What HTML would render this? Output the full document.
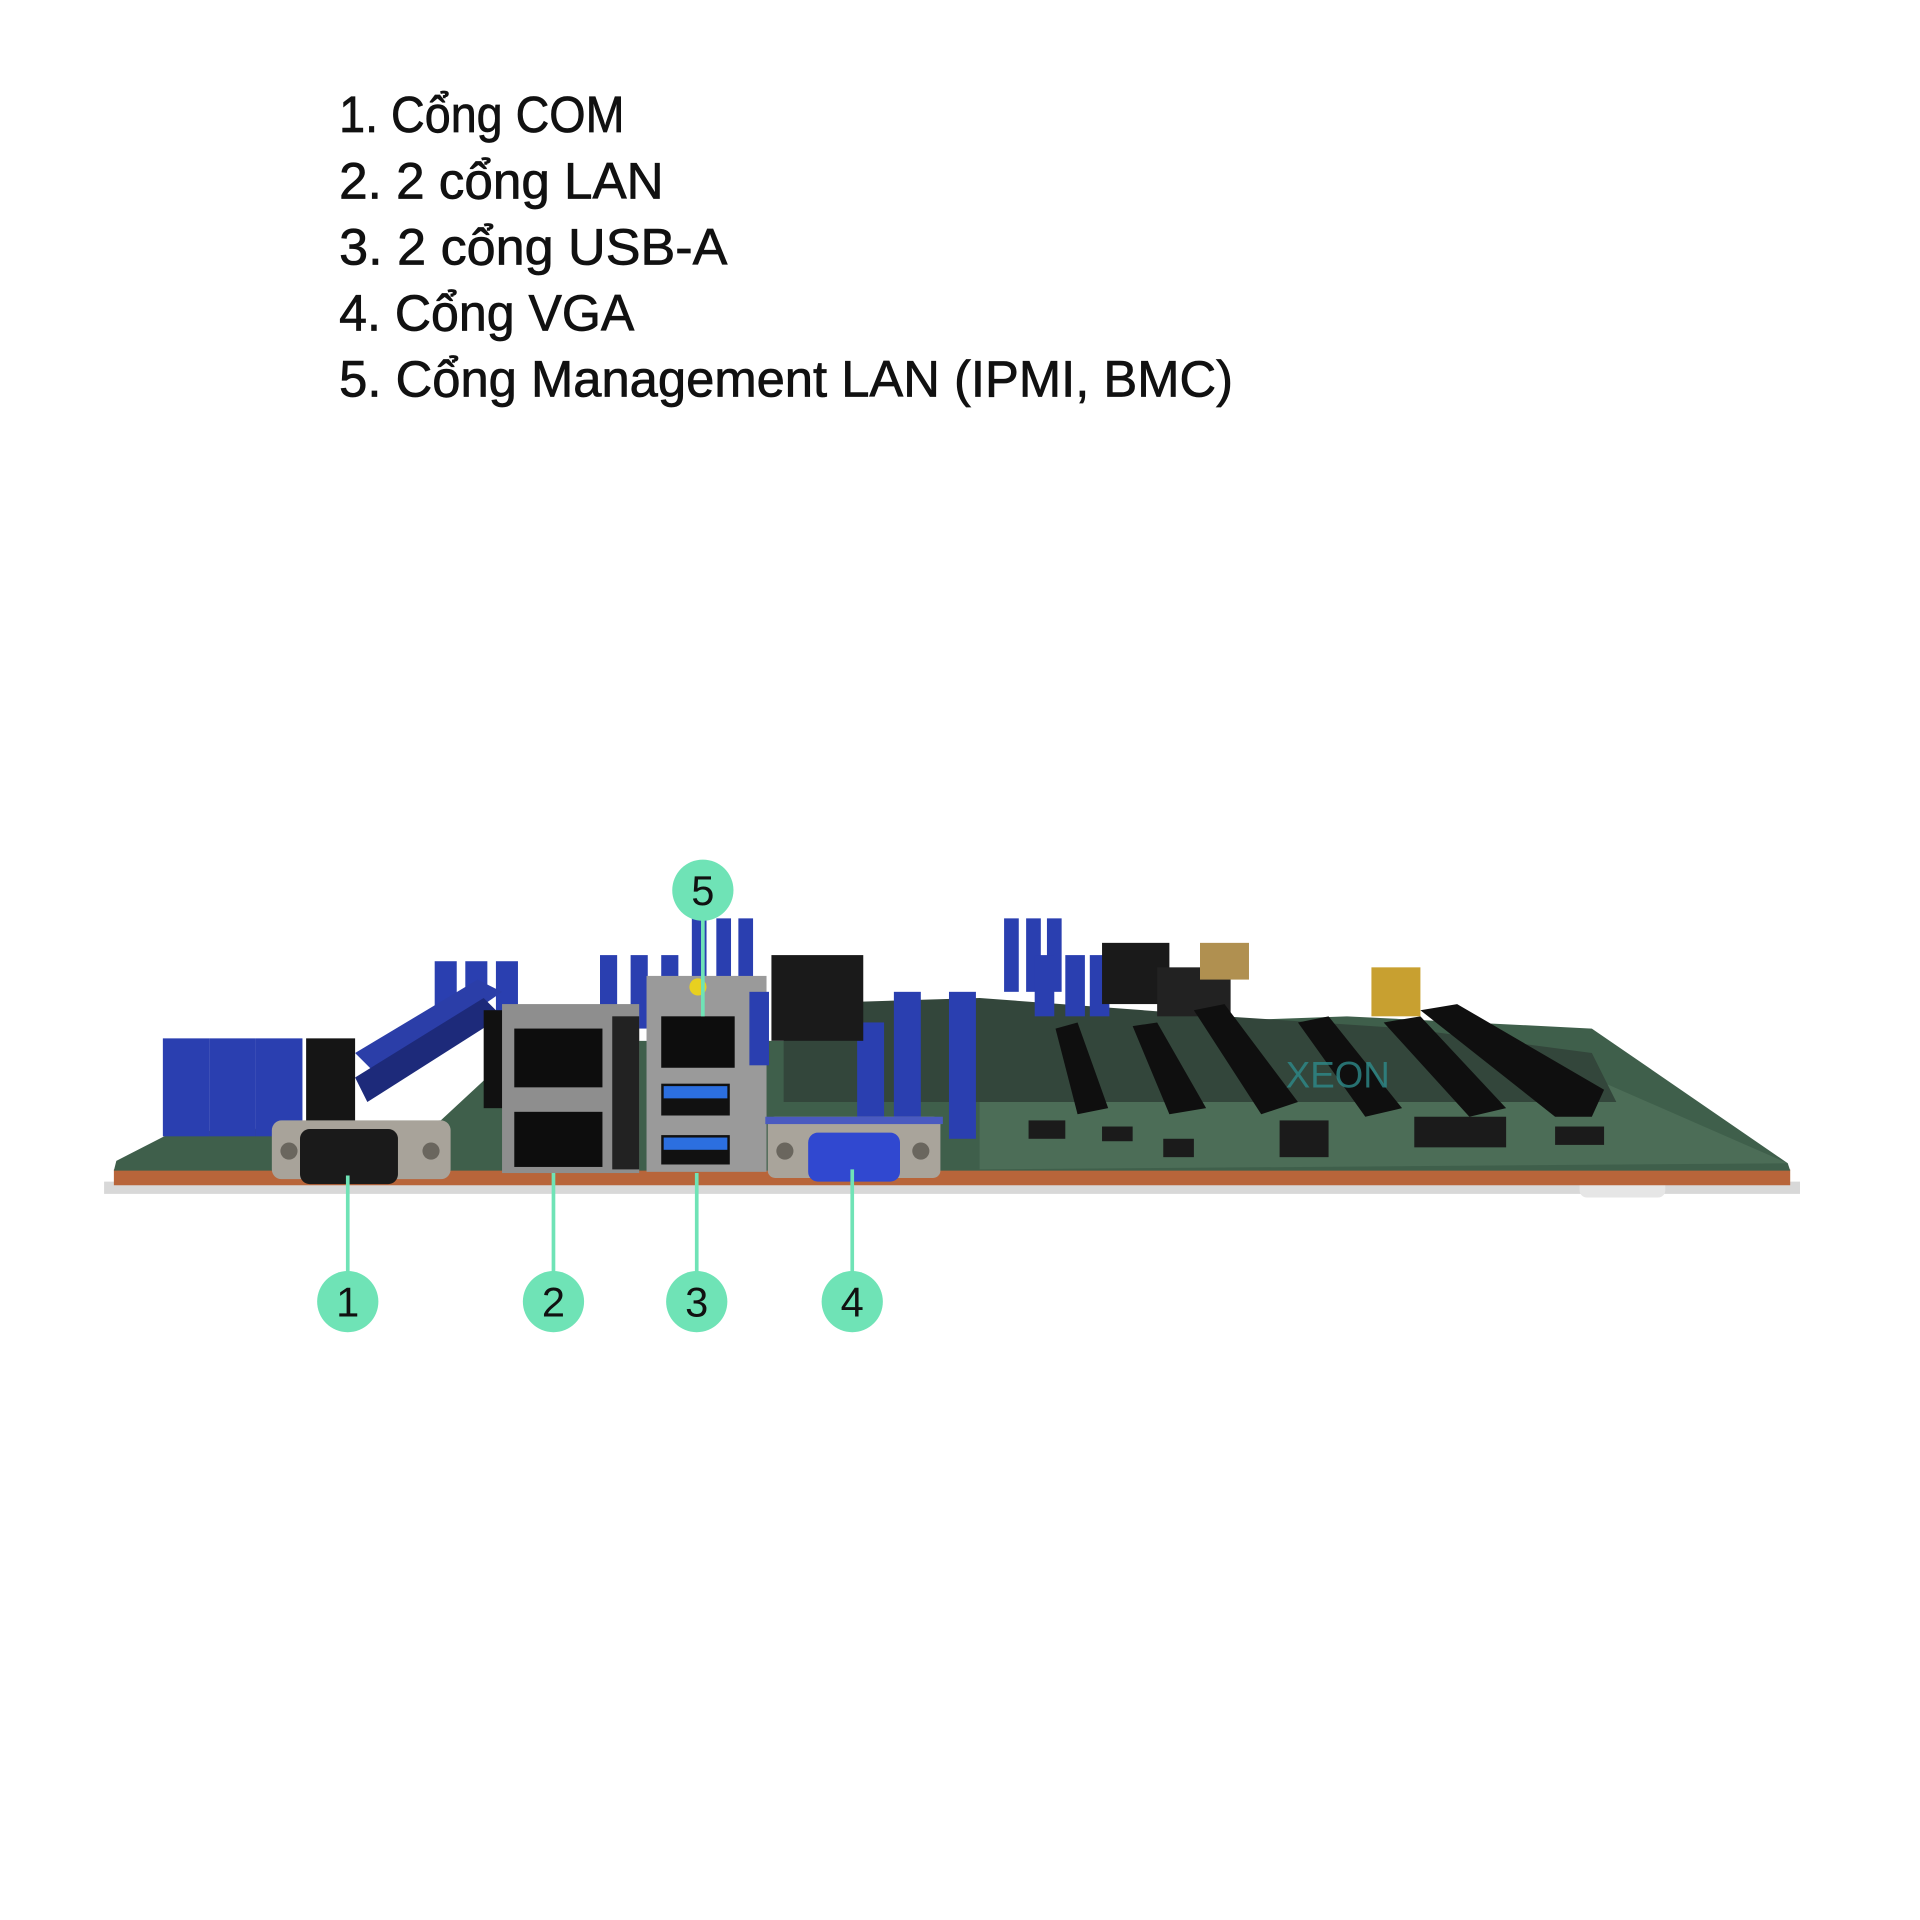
<!DOCTYPE html>
<html><head><meta charset="utf-8"><style>html,body{margin:0;padding:0;background:#fff}svg{display:block}</style></head>
<body>
<svg width="1920" height="1920" viewBox="0 0 1568 1568" xmlns="http://www.w3.org/2000/svg">
<rect width="1568" height="1568" fill="#fff"/>
<g font-family="Liberation Sans, DejaVu Sans, sans-serif" font-size="42" fill="#111" stroke="#111" stroke-width="0.6">
<text x="277" y="108" textLength="233" lengthAdjust="spacingAndGlyphs">1. Cổng COM</text>
<text x="277" y="162" textLength="265" lengthAdjust="spacingAndGlyphs">2. 2 cổng LAN</text>
<text x="277" y="216" textLength="317" lengthAdjust="spacingAndGlyphs">3. 2 cổng USB-A</text>
<text x="277" y="270" textLength="241" lengthAdjust="spacingAndGlyphs">4. Cổng VGA</text>
<text x="277" y="324" textLength="730" lengthAdjust="spacingAndGlyphs">5. Cổng Management LAN (IPMI, BMC)</text>
</g>
<rect x="85" y="965" width="1385" height="10" fill="#d8d8d8"/>
<rect x="1290" y="960" width="70" height="18" rx="6" fill="#e6e6e6"/>
<polygon points="93,955 1462,955 1462,968 93,968" fill="#b8653a"/>
<polygon points="95,948 140,925 360,915 430,850 800,850 830,840 1100,830 1300,840 1460,950 1462,956 93,956" fill="#3f5f4b"/>
<polygon points="800,900 1300,880 1460,950 800,955" fill="#4c6d57"/>
<polygon points="640,820 800,815 1000,830 1150,840 1300,860 1320,900 800,900 640,900" fill="#33463b"/>
<g fill="#2a3fb0">
<rect x="133" y="848" width="38" height="80"/><rect x="171" y="848" width="38" height="80"/><rect x="209" y="848" width="38" height="80"/>
<rect x="355" y="785" width="18" height="50"/><rect x="380" y="785" width="18" height="50"/><rect x="405" y="785" width="18" height="50"/>
<rect x="490" y="780" width="14" height="60"/><rect x="515" y="780" width="14" height="60"/><rect x="540" y="780" width="14" height="60"/>
<rect x="565" y="750" width="12" height="50"/><rect x="585" y="750" width="12" height="50"/><rect x="603" y="750" width="12" height="50"/>
<rect x="700" y="835" width="22" height="95"/><rect x="730" y="810" width="22" height="120"/><rect x="775" y="810" width="22" height="120"/>
<rect x="820" y="750" width="12" height="60"/><rect x="838" y="750" width="12" height="60"/><rect x="855" y="750" width="12" height="60"/>
<rect x="845" y="780" width="16" height="50"/><rect x="870" y="780" width="16" height="50"/><rect x="890" y="780" width="16" height="50"/>
</g>
<polygon points="290,860 390,800 410,810 310,880" fill="#2b3ea8"/>
<polygon points="290,880 395,815 410,830 300,900" fill="#1d2a7a"/>
<rect x="250" y="848" width="40" height="80" fill="#151515"/>
<rect x="395" y="825" width="20" height="80" fill="#111"/>
<rect x="630" y="780" width="75" height="70" fill="#1a1a1a"/>
<rect x="900" y="770" width="55" height="50" fill="#1a1a1a"/>
<rect x="945" y="790" width="60" height="40" fill="#222"/>
<rect x="980" y="770" width="40" height="30" fill="#b09050"/>
<rect x="1120" y="790" width="40" height="40" fill="#c8a030"/>
<g fill="#0f0f0f">
<polygon points="862,840 880,835 905,905 880,910"/>
<polygon points="925,838 945,835 985,905 955,910"/>
<polygon points="975,825 1000,820 1060,900 1030,910"/>
<polygon points="1060,835 1085,830 1145,905 1115,912"/>
<polygon points="1130,835 1160,830 1230,905 1200,912"/>
<polygon points="1160,825 1190,820 1310,890 1300,912 1270,912"/>
</g>
<g fill="#1b1b1b">
<rect x="1155" y="912" width="75" height="25"/><rect x="1270" y="920" width="40" height="15"/>
<rect x="1045" y="915" width="40" height="30"/><rect x="840" y="915" width="30" height="15"/>
<rect x="900" y="920" width="25" height="12"/><rect x="950" y="930" width="25" height="15"/>
</g>
<text x="1050" y="888" font-family="Liberation Sans, sans-serif" font-size="30" fill="#2d8a8a" opacity="0.8">XEON</text>
<rect x="222" y="915" width="146" height="48" rx="8" fill="#a8a39a"/>
<rect x="245" y="922" width="80" height="45" rx="8" fill="#1a1a1a"/>
<circle cx="236" cy="940" r="7" fill="#6a665e"/><circle cx="352" cy="940" r="7" fill="#6a665e"/>
<rect x="410" y="820" width="112" height="138" fill="#8e8e8e"/>
<rect x="500" y="830" width="22" height="125" fill="#222"/>
<rect x="420" y="840" width="72" height="48" fill="#0d0d0d"/>
<rect x="420" y="908" width="72" height="45" fill="#0d0d0d"/>
<rect x="528" y="797" width="98" height="160" fill="#9a9a9a"/>
<circle cx="570" cy="806" r="7" fill="#e8d020"/>
<rect x="540" y="830" width="60" height="42" fill="#0d0d0d"/>
<rect x="540" y="885" width="56" height="26" fill="#111"/><rect x="542" y="887" width="52" height="10" fill="#2c6fe0"/>
<rect x="540" y="927" width="56" height="24" fill="#111"/><rect x="542" y="929" width="52" height="10" fill="#2c6fe0"/>
<rect x="612" y="810" width="16" height="60" fill="#2a3fb0"/>
<rect x="627" y="912" width="141" height="50" rx="6" fill="#a9a49b"/>
<rect x="625" y="912" width="145" height="6" fill="#4a5ac0"/>
<rect x="660" y="925" width="75" height="40" rx="8" fill="#3048d0"/>
<circle cx="641" cy="940" r="7" fill="#6a665e"/><circle cx="752" cy="940" r="7" fill="#6a665e"/>
<g stroke="#6fe3b6" stroke-width="3">
<line x1="284" y1="960" x2="284" y2="1063"/>
<line x1="452" y1="958" x2="452" y2="1063"/>
<line x1="569" y1="958" x2="569" y2="1063"/>
<line x1="696" y1="955" x2="696" y2="1063"/>
<line x1="574" y1="727" x2="574" y2="830"/>
</g>
<g fill="#6fe3b6">
<circle cx="574" cy="727" r="25"/><circle cx="284" cy="1063" r="25"/><circle cx="452" cy="1063" r="25"/><circle cx="569" cy="1063" r="25"/><circle cx="696" cy="1063" r="25"/>
</g>
<g font-family="Liberation Sans, sans-serif" font-size="34" fill="#111" text-anchor="middle">
<text x="574" y="739">5</text><text x="284" y="1075">1</text><text x="452" y="1075">2</text><text x="569" y="1075">3</text><text x="696" y="1075">4</text>
</g>
</svg>
</body></html>
